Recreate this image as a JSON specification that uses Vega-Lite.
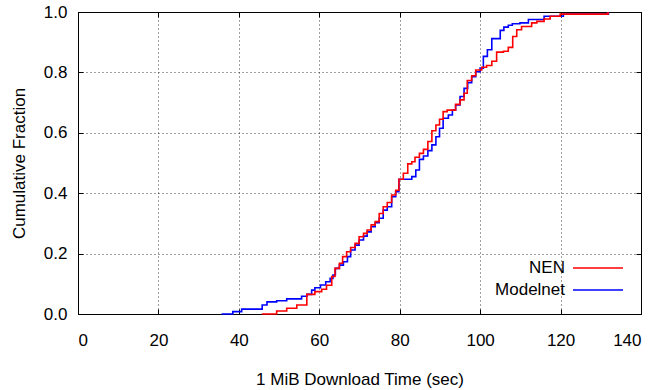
{
  "$schema": "https://vega.github.io/schema/vega-lite/v6.json",
  "width": 563,
  "height": 302,
  "autosize": {"type": "none"},
  "padding": {"left": 78, "top": 12, "right": 21, "bottom": 76},
  "background": "#ffffff",
  "config": {
    "font": "Liberation Sans",
    "view": {"stroke": "#000000", "strokeWidth": 1},
    "axis": {
      "labelFont": "Liberation Sans",
      "labelFontSize": 17,
      "labelColor": "#000000",
      "titleFont": "Liberation Sans",
      "titleFontSize": 17,
      "titleFontWeight": "normal",
      "titleColor": "#000000",
      "domainColor": "#000000",
      "tickColor": "#000000",
      "gridColor": "#000000",
      "gridDash": [1, 3],
      "gridOpacity": 0.75,
      "tickSize": -5
    },
    "legend": {
      "labelFont": "Liberation Sans",
      "labelFontSize": 17,
      "labelColor": "#000000"
    }
  },
  "data": {
    "values": [
      {"series": "Modelnet", "time": 35.7, "frac": 0},
      {"series": "Modelnet", "time": 38.5, "frac": 0.008},
      {"series": "Modelnet", "time": 40.7, "frac": 0.016},
      {"series": "Modelnet", "time": 45.8, "frac": 0.03},
      {"series": "Modelnet", "time": 47.0, "frac": 0.04},
      {"series": "Modelnet", "time": 49.4, "frac": 0.044},
      {"series": "Modelnet", "time": 51.9, "frac": 0.05},
      {"series": "Modelnet", "time": 55.6, "frac": 0.059},
      {"series": "Modelnet", "time": 56.9, "frac": 0.065},
      {"series": "Modelnet", "time": 58.1, "frac": 0.079},
      {"series": "Modelnet", "time": 58.9, "frac": 0.087},
      {"series": "Modelnet", "time": 60.3, "frac": 0.096},
      {"series": "Modelnet", "time": 61.6, "frac": 0.107},
      {"series": "Modelnet", "time": 62.7, "frac": 0.118},
      {"series": "Modelnet", "time": 63.4, "frac": 0.129},
      {"series": "Modelnet", "time": 64.0, "frac": 0.151},
      {"series": "Modelnet", "time": 65.0, "frac": 0.162},
      {"series": "Modelnet", "time": 66.0, "frac": 0.173},
      {"series": "Modelnet", "time": 67.0, "frac": 0.19},
      {"series": "Modelnet", "time": 67.8, "frac": 0.212},
      {"series": "Modelnet", "time": 68.9, "frac": 0.228},
      {"series": "Modelnet", "time": 69.9, "frac": 0.245},
      {"series": "Modelnet", "time": 71.0, "frac": 0.258},
      {"series": "Modelnet", "time": 71.9, "frac": 0.272},
      {"series": "Modelnet", "time": 72.9, "frac": 0.289},
      {"series": "Modelnet", "time": 73.9, "frac": 0.302},
      {"series": "Modelnet", "time": 74.9, "frac": 0.317},
      {"series": "Modelnet", "time": 75.9, "frac": 0.344},
      {"series": "Modelnet", "time": 76.9, "frac": 0.355},
      {"series": "Modelnet", "time": 78.0, "frac": 0.388},
      {"series": "Modelnet", "time": 79.0, "frac": 0.405},
      {"series": "Modelnet", "time": 79.8, "frac": 0.446},
      {"series": "Modelnet", "time": 83.0, "frac": 0.455},
      {"series": "Modelnet", "time": 84.0, "frac": 0.477},
      {"series": "Modelnet", "time": 84.9, "frac": 0.512},
      {"series": "Modelnet", "time": 85.9, "frac": 0.523},
      {"series": "Modelnet", "time": 87.0, "frac": 0.541},
      {"series": "Modelnet", "time": 88.0, "frac": 0.56},
      {"series": "Modelnet", "time": 89.0, "frac": 0.587},
      {"series": "Modelnet", "time": 89.9, "frac": 0.615},
      {"series": "Modelnet", "time": 90.8, "frac": 0.648},
      {"series": "Modelnet", "time": 92.1, "frac": 0.659},
      {"series": "Modelnet", "time": 93.1, "frac": 0.675},
      {"series": "Modelnet", "time": 93.9, "frac": 0.692},
      {"series": "Modelnet", "time": 95.0, "frac": 0.72},
      {"series": "Modelnet", "time": 96.0, "frac": 0.747},
      {"series": "Modelnet", "time": 96.9, "frac": 0.766},
      {"series": "Modelnet", "time": 97.9, "frac": 0.786},
      {"series": "Modelnet", "time": 98.9, "frac": 0.802},
      {"series": "Modelnet", "time": 100.0, "frac": 0.814},
      {"series": "Modelnet", "time": 100.8, "frac": 0.853},
      {"series": "Modelnet", "time": 101.8, "frac": 0.875},
      {"series": "Modelnet", "time": 102.9, "frac": 0.912},
      {"series": "Modelnet", "time": 105.0, "frac": 0.939},
      {"series": "Modelnet", "time": 105.9, "frac": 0.95},
      {"series": "Modelnet", "time": 107.0, "frac": 0.956},
      {"series": "Modelnet", "time": 108.0, "frac": 0.961},
      {"series": "Modelnet", "time": 109.9, "frac": 0.964},
      {"series": "Modelnet", "time": 112.0, "frac": 0.975},
      {"series": "Modelnet", "time": 115.9, "frac": 0.986},
      {"series": "Modelnet", "time": 120.7, "frac": 0.993},
      {"series": "Modelnet", "time": 131.9, "frac": 1.0},
      {"series": "NEN", "time": 45.7, "frac": 0},
      {"series": "NEN", "time": 49.4, "frac": 0.01},
      {"series": "NEN", "time": 51.9, "frac": 0.019},
      {"series": "NEN", "time": 54.4, "frac": 0.03},
      {"series": "NEN", "time": 56.9, "frac": 0.065},
      {"series": "NEN", "time": 58.9, "frac": 0.074},
      {"series": "NEN", "time": 60.6, "frac": 0.082},
      {"series": "NEN", "time": 61.8, "frac": 0.095},
      {"series": "NEN", "time": 63.1, "frac": 0.124},
      {"series": "NEN", "time": 63.9, "frac": 0.151},
      {"series": "NEN", "time": 65.0, "frac": 0.168},
      {"series": "NEN", "time": 65.8, "frac": 0.19},
      {"series": "NEN", "time": 66.8, "frac": 0.206},
      {"series": "NEN", "time": 67.8, "frac": 0.22},
      {"series": "NEN", "time": 68.9, "frac": 0.234},
      {"series": "NEN", "time": 69.9, "frac": 0.256},
      {"series": "NEN", "time": 71.0, "frac": 0.267},
      {"series": "NEN", "time": 71.9, "frac": 0.278},
      {"series": "NEN", "time": 72.9, "frac": 0.295},
      {"series": "NEN", "time": 73.9, "frac": 0.306},
      {"series": "NEN", "time": 74.9, "frac": 0.333},
      {"series": "NEN", "time": 75.9, "frac": 0.355},
      {"series": "NEN", "time": 76.9, "frac": 0.369},
      {"series": "NEN", "time": 78.0, "frac": 0.394},
      {"series": "NEN", "time": 79.0, "frac": 0.41},
      {"series": "NEN", "time": 79.8, "frac": 0.446},
      {"series": "NEN", "time": 80.9, "frac": 0.466},
      {"series": "NEN", "time": 82.0, "frac": 0.497},
      {"series": "NEN", "time": 83.0, "frac": 0.504},
      {"series": "NEN", "time": 83.8, "frac": 0.519},
      {"series": "NEN", "time": 84.9, "frac": 0.532},
      {"series": "NEN", "time": 85.9, "frac": 0.545},
      {"series": "NEN", "time": 87.0, "frac": 0.571},
      {"series": "NEN", "time": 88.0, "frac": 0.607},
      {"series": "NEN", "time": 89.0, "frac": 0.626},
      {"series": "NEN", "time": 89.9, "frac": 0.645},
      {"series": "NEN", "time": 90.8, "frac": 0.67},
      {"series": "NEN", "time": 91.8, "frac": 0.675},
      {"series": "NEN", "time": 93.9, "frac": 0.694},
      {"series": "NEN", "time": 95.0, "frac": 0.709},
      {"series": "NEN", "time": 96.0, "frac": 0.731},
      {"series": "NEN", "time": 96.8, "frac": 0.773},
      {"series": "NEN", "time": 97.9, "frac": 0.789},
      {"series": "NEN", "time": 98.9, "frac": 0.808},
      {"series": "NEN", "time": 100.4, "frac": 0.817},
      {"series": "NEN", "time": 101.6, "frac": 0.823},
      {"series": "NEN", "time": 102.9, "frac": 0.837},
      {"series": "NEN", "time": 104.1, "frac": 0.867},
      {"series": "NEN", "time": 105.8, "frac": 0.87},
      {"series": "NEN", "time": 107.0, "frac": 0.883},
      {"series": "NEN", "time": 108.1, "frac": 0.919},
      {"series": "NEN", "time": 109.1, "frac": 0.941},
      {"series": "NEN", "time": 110.3, "frac": 0.952},
      {"series": "NEN", "time": 112.8, "frac": 0.964},
      {"series": "NEN", "time": 114.1, "frac": 0.969},
      {"series": "NEN", "time": 115.9, "frac": 0.977},
      {"series": "NEN", "time": 117.4, "frac": 0.986},
      {"series": "NEN", "time": 119.9, "frac": 0.993},
      {"series": "NEN", "time": 131.8, "frac": 1.0}
    ]
  },
  "layer": [
    {
      "mark": {"type": "line", "interpolate": "step-after", "strokeWidth": 1.6},
      "encoding": {
        "x": {
          "field": "time",
          "type": "quantitative",
          "scale": {"domain": [0, 140], "nice": false, "zero": false},
          "axis": {
            "orient": "bottom",
            "title": "1 MiB Download Time (sec)",
            "values": [0, 20, 40, 60, 80, 100, 120, 140],
            "format": "d",
            "grid": true,
            "labelPadding": 23,
            "titlePadding": 23
          }
        },
        "y": {
          "field": "frac",
          "type": "quantitative",
          "scale": {"domain": [0, 1], "nice": false},
          "axis": {
            "orient": "left",
            "title": "Cumulative Fraction",
            "values": [0, 0.2, 0.4, 0.6, 0.8, 1.0],
            "format": ".1f",
            "grid": true,
            "labelPadding": 16,
            "titlePadding": 15
          }
        },
        "color": {
          "field": "series",
          "type": "nominal",
          "scale": {"domain": ["NEN", "Modelnet"], "range": ["#ff0000", "#0000ff"]},
          "legend": {
            "title": null,
            "orient": "none",
            "legendX": 506.5,
            "legendY": 242.5,
            "padding": 0,
            "symbolType": "M-2,0H2",
            "symbolSize": 625,
            "symbolStrokeWidth": 1.6,
            "symbolOpacity": 1,
            "rowPadding": 0,
            "labelAlign": "right",
            "labelOffset": -46.5
          }
        }
      }
    },
    {
      "mark": {"type": "line", "opacity": 0},
      "encoding": {
        "x": {
          "field": "time",
          "type": "quantitative",
          "scale": {"domain": [0, 140], "nice": false, "zero": false},
          "axis": {
            "orient": "top",
            "title": null,
            "labels": false,
            "grid": false,
            "values": [0, 20, 40, 60, 80, 100, 120, 140]
          }
        },
        "y": {
          "field": "frac",
          "type": "quantitative",
          "scale": {"domain": [0, 1], "nice": false},
          "axis": {
            "orient": "right",
            "title": null,
            "labels": false,
            "grid": false,
            "values": [0, 0.2, 0.4, 0.6, 0.8, 1.0]
          }
        }
      }
    }
  ],
  "resolve": {"axis": {"x": "independent", "y": "independent"}}
}
